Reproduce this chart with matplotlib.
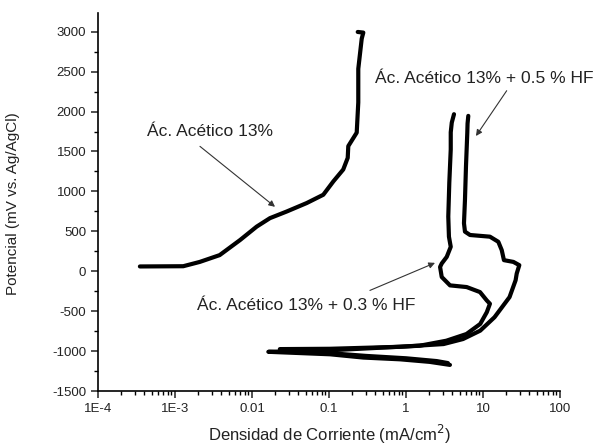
import matplotlib.pyplot as plt
from matplotlib.ticker import FixedLocator, LogLocator, NullFormatter

plt.rcParams['font.family'] = ['Liberation Sans', 'DejaVu Sans']
plt.rcParams['axes.unicode_minus'] = False

# Ác. Acético 13%
i_ac = [3.5e-4, 1.28e-3, 2.1e-3, 3.8e-3, 7.0e-3, 0.0115, 0.0171, 0.0282, 0.0513,
        0.0843, 0.114, 0.153, 0.175, 0.178, 0.229, 0.240, 0.240, 0.266, 0.279, 0.236]
e_ac = [60, 63, 117, 202, 391, 559, 665, 748, 854,
        958, 1126, 1274, 1420, 1567, 1736, 2115, 2535, 2913, 2989, 2997]

# Ác. Acético 13% + 0.3 % HF
i_03 = [3.72, 2.03, 0.836, 0.279, 0.103, 0.0163,
        0.103, 0.459, 1.5, 3.34, 6.1, 9.2, 11.2, 12.3, 11.2, 9.14, 6.13, 3.73,
        2.91, 2.77, 2.91, 3.38, 3.81, 3.61, 3.54, 3.65, 3.81, 3.81, 3.93, 4.20]
e_03 = [-1173, -1135, -1103, -1081, -1040, -1009,
        -990, -958, -933, -870, -786, -660, -513, -407, -366, -261, -198, -177,
        -72, 54, 97, 180, 306, 433, 685, 1110, 1526, 1740, 1862, 1967]

# Ác. Acético 13% + 0.5 % HF
i_05 = [3.5, 2.5, 1.0, 0.3, 0.1, 0.023,
        0.103, 0.836, 3.07, 5.5, 9.2, 14.1, 22.1, 26.5, 27.4, 29.6, 24.8, 18.7,
        17.5, 15.8, 12.3, 6.78, 5.83, 5.66, 5.83, 6.01, 6.25, 6.3, 6.44]
e_05 = [-1150, -1125, -1090, -1060, -1025, -975,
        -971, -946, -912, -849, -744, -576, -324, -113, -29, 76, 117, 139,
        265, 369, 433, 454, 496, 601, 895, 1315, 1736, 1850, 1946]

xticks = [1e-4, 1e-3, 1e-2, 1e-1, 1, 10, 100]
xticklabels = ['1E-4', '1E-3', '0.01', '0.1', '1', '10', '100']
yticks = [-1500, -1000, -500, 0, 500, 1000, 1500, 2000, 2500, 3000]

fig = plt.figure(figsize=(5.95, 4.48), dpi=100)
ax = fig.add_axes([0.1647, 0.1272, 0.7765, 0.843])

for xs, ys in [(i_ac, e_ac), (i_03, e_03), (i_05, e_05)]:
    ax.plot(xs, ys, color='black', lw=3, solid_capstyle='round', solid_joinstyle='round')

ax.set_xscale('log')
ax.set_xlim(1e-4, 100)
ax.set_ylim(-1500, 3230)

ax.set_xticks(xticks)
ax.set_xticklabels(xticklabels)
ax.xaxis.set_minor_locator(LogLocator(base=10, subs=range(2, 10), numticks=20))
ax.xaxis.set_minor_formatter(NullFormatter())
ax.set_yticks(yticks)
ax.yaxis.set_minor_locator(FixedLocator(range(-1250, 3250, 500)))

for s in ['top', 'right']:
    ax.spines[s].set_visible(False)
for s in ['left', 'bottom']:
    ax.spines[s].set_linewidth(1.2)
ax.tick_params(which='major', direction='out', length=5, width=1.1, labelsize=9.5, colors='#222')
ax.tick_params(which='minor', direction='out', length=3, width=1.0)

ax.set_xlabel('Densidad de Corriente (mA/cm$^2$)', fontsize=12, color='#222', labelpad=6)
ax.set_ylabel('Potencial (mV vs. Ag/AgCl)', fontsize=11, color='#222')
ax.yaxis.set_label_coords(-0.169, 0.495)

arrow = dict(arrowstyle='-|>', color='#333', lw=0.8, mutation_scale=9, shrinkA=0, shrinkB=0)
ax.annotate('', xy=(0.0199, 807), xytext=(2.11e-3, 1564), arrowprops=arrow)
ax.annotate('', xy=(8.1, 1694), xytext=(20.3, 2261), arrowprops=arrow)
ax.annotate('', xy=(2.38, 105), xytext=(0.34, -240), arrowprops=arrow)

ax.text(2.85e-3, 1753, 'Ác. Acético 13%', fontsize=12.5, color='#222', ha='center', va='center')
ax.text(10.3, 2409, 'Ác. Acético 13% + 0.5 % HF', fontsize=12.5, color='#222', ha='center', va='center')
ax.text(1.93e-3, -430, 'Ác. Acético 13% + 0.3 % HF', fontsize=12.5, color='#222', ha='left', va='center')

fig.savefig('out.png', dpi=100)
